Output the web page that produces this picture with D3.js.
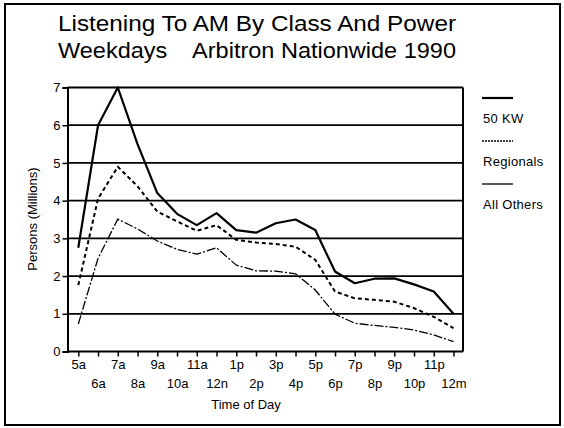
<!DOCTYPE html>
<html>
<head>
<meta charset="utf-8">
<title>Listening To AM</title>
<script src="https://d3js.org/d3.v7.min.js"></script>
<style>
body { margin: 0; background: #fff; }
text { font-family: "Liberation Sans", Arial, sans-serif; fill: #000; }
</style>
</head>
<body>
<div id="chart"></div>
<script>
// hours along the x axis
var hours = ["5a","6a","7a","8a","9a","10a","11a","12n","1p","2p","3p","4p","5p","6p","7p","8p","9p","10p","11p","12m"];
// persons listening, millions
var kw50 =      [2.75, 6.0, 7.0, 5.5, 4.2, 3.65, 3.35, 3.67, 3.22, 3.15, 3.4, 3.5, 3.22, 2.12, 1.81, 1.93, 1.94, 1.78, 1.59, 1.0];
var regionals = [1.76, 4.05, 4.9, 4.38, 3.71, 3.45, 3.2, 3.35, 2.96, 2.89, 2.85, 2.78, 2.43, 1.59, 1.41, 1.37, 1.32, 1.15, 0.92, 0.62];
var allOthers = [0.73, 2.47, 3.51, 3.25, 2.93, 2.71, 2.58, 2.75, 2.29, 2.14, 2.13, 2.06, 1.63, 0.99, 0.75, 0.69, 0.64, 0.57, 0.44, 0.26];
var yTicks = [0,1,2,3,4,5,6,7];
var seriesNames = ["50 KW", "Regionals", "All Others"];

var width = 564, height = 428;
var svg = d3.select("#chart").append("svg").attr("width", width).attr("height", height);

// outer frame
svg.append("rect").attr("x", 5).attr("y", 4).attr("width", 555).attr("height", 421)
	.attr("fill", "none").attr("stroke", "#000").attr("stroke-width", 2);

// title
svg.append("text").attr("x", 257).attr("y", 31).attr("text-anchor", "middle")
	.attr("textLength", 398).attr("lengthAdjust", "spacingAndGlyphs")
	.style("font-size", "22px").text("Listening To AM By Class And Power");
svg.append("text").attr("x", 257).attr("y", 58).attr("text-anchor", "middle")
	.attr("textLength", 398).attr("lengthAdjust", "spacingAndGlyphs")
	.style("font-size", "22px").attr("xml:space", "preserve").text("Weekdays    Arbitron Nationwide 1990");

var x = d3.scalePoint().domain(hours).range([78.3, 453.5]);
var y = d3.scaleLinear().domain([0, 7]).range([351.5, 87.5]);
var left = 67.5, right = 463;

// grid lines
svg.selectAll(".grid").data(yTicks.slice(1)).enter().append("line")
	.attr("x1", left).attr("x2", right)
	.attr("y1", function(d){ return y(d); }).attr("y2", function(d){ return y(d); })
	.attr("stroke", "#000").attr("stroke-width", 1.8);

// frame of plot
svg.append("line").attr("x1", right).attr("x2", right).attr("y1", y(7)).attr("y2", y(0))
	.attr("stroke", "#000").attr("stroke-width", 2);

// y axis
var yAxis = svg.append("g").attr("transform", "translate(" + left + ",0)")
	.call(d3.axisLeft(y).tickValues(yTicks).tickSize(5).tickPadding(2).tickFormat(d3.format("d")));
yAxis.select(".domain").attr("stroke-width", 2);
yAxis.selectAll("line").attr("stroke-width", 1.5);
yAxis.selectAll("text").style("font-size", "13px").style("font-family", "Liberation Sans, Arial, sans-serif");

// x axis
var xAxis = svg.append("g").attr("transform", "translate(0," + y(0) + ")")
	.call(d3.axisBottom(x).tickSize(5).tickSizeOuter(0).tickPadding(3));
xAxis.select(".domain").attr("d", "M" + left + ",0H" + right).attr("stroke-width", 2);
xAxis.selectAll("line").attr("stroke-width", 1.5);
xAxis.selectAll("text").style("font-size", "13px").style("font-family", "Liberation Sans, Arial, sans-serif")
	.attr("y", function(d, i){ return i % 2 == 0 ? 8 : 27; });

svg.append("text").attr("x", 246).attr("y", 409).attr("text-anchor", "middle")
	.style("font-size", "13px").text("Time of Day");
svg.append("text").attr("transform", "translate(37,219) rotate(-90)").attr("text-anchor", "middle")
	.style("font-size", "13px").text("Persons (Millions)");

var line = d3.line().x(function(d, i){ return x(hours[i]); }).y(function(d){ return y(d); });

var styles = [
	{ w: 2.2, dash: null },
	{ w: 2, dash: "4,3" },
	{ w: 1.3, dash: "9,2,2,2" }
];
var data = [kw50, regionals, allOthers];

svg.selectAll(".series").data(data).enter().append("path")
	.attr("class", "series")
	.attr("d", line).attr("fill", "none").attr("stroke", "#000")
	.attr("stroke-width", function(d, i){ return styles[i].w; })
	.attr("stroke-dasharray", function(d, i){ return styles[i].dash; })
	.attr("stroke-linejoin", "round");

// legend
var leg = svg.selectAll(".leg").data(seriesNames).enter().append("g")
	.attr("transform", function(d, i){ return "translate(482," + (98 + i * 43) + ")"; });
leg.append("line").attr("x1", 0).attr("x2", 31).attr("y1", 0).attr("y2", 0)
	.attr("stroke", "#000")
	.attr("stroke-width", function(d, i){ return [2.2, 1.3, 1.3][i]; })
	.attr("stroke-dasharray", function(d, i){ return [null, "2,1", null][i]; });
leg.append("text").attr("x", 1).attr("y", 25).style("font-size", "13px")
	.style("letter-spacing", "0.3px").text(function(d){ return d; });
</script>
</body>
</html>
